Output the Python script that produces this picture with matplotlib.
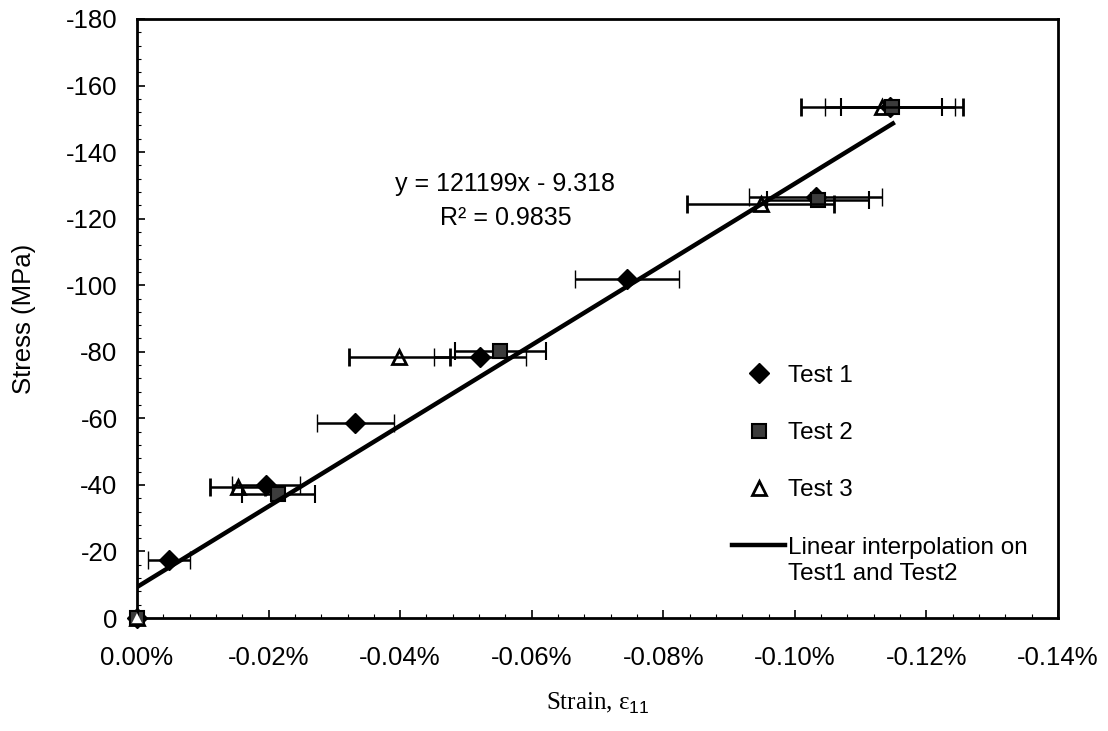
import matplotlib
matplotlib.use("Agg")
import matplotlib.pyplot as plt
from matplotlib.ticker import MultipleLocator, FuncFormatter
from matplotlib.lines import Line2D

plt.rcParams['font.family'] = ['Liberation Sans', 'DejaVu Sans']
plt.rcParams['mathtext.fontset'] = 'custom'
plt.rcParams['mathtext.rm'] = 'Liberation Serif'
plt.rcParams['mathtext.sf'] = 'Liberation Sans'
plt.rcParams['axes.unicode_minus'] = False

# ---- data (strain in %, stress in MPa) ----
t1_strain = [0.0, -0.0049, -0.0196, -0.0332, -0.0522, -0.0745, -0.1032, -0.1145]
t1_stress = [0.0, -17.4, -40.0, -58.6, -78.5, -102.0, -126.6, -153.5]
t1_err = [0.0, 0.0032, 0.0052, 0.0058, 0.0070, 0.0079, 0.0101, 0.0099]

t2_strain = [0.0, -0.0215, -0.0552, -0.1035, -0.1147]
t2_stress = [0.0, -37.4, -80.3, -125.5, -153.5]
t2_err = [0.0, 0.0055, 0.0069, 0.0078, 0.0077]

t3_strain = [0.0, -0.0153, -0.0399, -0.0948, -0.1133]
t3_stress = [0.0, -39.5, -78.5, -124.5, -153.5]
t3_err = [0.0, 0.0042, 0.0077, 0.0112, 0.0123]

trend_strain = [0.0, -0.1149]
trend_stress = [-9.3, -148.6]

x_ticks = [0.0, -0.02, -0.04, -0.06, -0.08, -0.10, -0.12, -0.14]
y_ticks = [0, -20, -40, -60, -80, -100, -120, -140, -160, -180]

fig = plt.figure(figsize=(11.08, 7.31), dpi=100)
ax = fig.add_axes([137/1108, 1 - 618/731, (1058-137)/1108, (618-19)/731])

eb_kw = dict(ecolor='black', elinewidth=1.8, capsize=6.5, capthick=1.8, linestyle='none')

tri_style = dict(marker='^', ms=10, mfc='white', mec='black', mew=2.0)
dia_style = dict(marker='D', ms=10, mfc='black', mec='black', mew=1.0)
sq_style = dict(marker='s', ms=10, mfc='#3c3c3c', mec='black', mew=1.5)

c3 = ax.errorbar(t3_strain, t3_stress, xerr=t3_err, zorder=7, **tri_style, **eb_kw)
c1 = ax.errorbar(t1_strain, t1_stress, xerr=t1_err, zorder=5, **dia_style, **eb_kw)
c2 = ax.errorbar(t2_strain, t2_stress, xerr=t2_err, zorder=6, **sq_style, **eb_kw)
for c in (c1, c2, c3):
    c[0].set_clip_on(False)
c3[0].set_zorder(4)
ax.plot(trend_strain, trend_stress, color='black', lw=3.2, zorder=8)
# keep origin triangle drawn on top of the origin square (as in the reference)
ax.plot(t3_strain[:1], t3_stress[:1], linestyle='none', zorder=9, clip_on=False,
        marker='^', ms=7, mfc='white', mec='white', mew=0)

ax.set_xlim(0, -0.14)
ax.set_ylim(0, -180)
ax.set_xticks(x_ticks)
ax.set_yticks(y_ticks)
ax.xaxis.set_minor_locator(MultipleLocator(0.004))
ax.yaxis.set_minor_locator(MultipleLocator(4))

def pct(v, pos):
    if abs(v) < 1e-12:
        return "0.00%"
    return f"{v:.2f}%"
ax.xaxis.set_major_formatter(FuncFormatter(pct))

ax.tick_params(axis='both', which='major', direction='in', length=6, width=1.2, labelsize=18.5)
ax.tick_params(axis='both', which='minor', direction='in', length=3, width=0.8)
ax.tick_params(axis='x', which='major', pad=20)
ax.tick_params(axis='y', which='major', pad=14)
for s in ax.spines.values():
    s.set_linewidth(2.0)

yl = ax.set_ylabel('Stress (MPa)', fontsize=18.5)
yl.set_va('center')
ax.yaxis.set_label_coords(-(137 - 24) / 921, 0.5)
xl = ax.set_xlabel(r'Strain, ε$_{\mathsf{11}}$', fontsize=18, family='Liberation Serif')
xl.set_va('center')
ax.xaxis.set_label_coords(0.5, -(703 - 618) / 599)

ax.text(-0.0560, -130.5, 'y = 121199x - 9.318', fontsize=18, ha='center', va='center')
ax.text(-0.0560, -120.3, 'R² = 0.9835', fontsize=18, ha='center', va='center')

handles = [
    Line2D([], [], linestyle='none', **dia_style),
    Line2D([], [], linestyle='none', **sq_style),
    Line2D([], [], linestyle='none', **tri_style),
    Line2D([], [], color='black', lw=3.2),
]
labels = ['Test 1', 'Test 2', 'Test 3', 'Linear interpolation on']
leg = ax.legend(handles, labels, loc='lower left', bbox_to_anchor=(0.646, 0.099),
                frameon=False, fontsize=17.5, handlelength=2.2, handletextpad=0.1,
                labelspacing=1.45, borderaxespad=0, borderpad=0)
ax.text((788 - 137) / 921, (618 - 574) / 599, 'Test1 and Test2', transform=ax.transAxes,
        fontsize=17.5, ha='left', va='center')

fig.savefig('out.png', dpi=100)
